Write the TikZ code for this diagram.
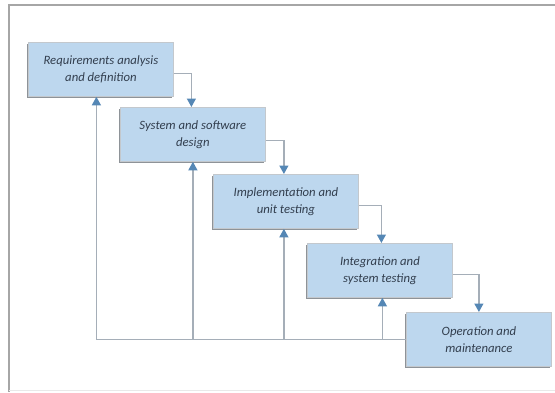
\documentclass[tikz,border=0pt]{standalone}
\usepackage{fontspec}
\setmainfont{Carlito}
\usetikzlibrary{arrows.meta,shadows}
\definecolor{boxfill}{HTML}{BDD7EE}
\definecolor{boxedge}{HTML}{C3C8CD}
\definecolor{shade}{HTML}{8E9398}
\definecolor{txt}{HTML}{323E4E}
\definecolor{linegray}{HTML}{A5AEB8}
\definecolor{arrowblue}{HTML}{5587B5}
\definecolor{framegray}{HTML}{A6A6A6}
\tikzset{
  stage/.style={draw=boxedge, line width=0.8pt, fill=boxfill,
    drop shadow={shadow xshift=-1.6pt, shadow yshift=-1.8pt, fill=shade, opacity=1},
    minimum width=145pt, minimum height=54pt, inner sep=0pt, anchor=north west,
    align=center, text=txt, font=\fontsize{12.7}{17}\selectfont\itshape},
  flow/.style={draw=linegray, line width=1.3pt,
    -{Triangle[width=9pt,length=8.5pt,color=arrowblue]}},
  plain/.style={draw=linegray, line width=1.3pt}
}
\begin{document}
\begin{tikzpicture}[x=1pt,y=-1pt]
\useasboundingbox (0,0) rectangle (555,392);
\draw[framegray, line width=1.2pt] (9,392) -- (9,5) -- (555,5);
\draw[framegray!25, line width=0.8pt] (9,390) -- (555,390);
\node[stage] (b1) at (28,42) {Requirements analysis\\and definition};
\node[stage] (b2) at (120,107) {System and software\\design};
\node[stage] (b3) at (213,174) {Implementation and\\unit testing};
\node[stage] (b4) at (307,243) {Integration and\\system testing};
\node[stage] (b5) at (406,312) {Operation and\\maintenance};
% forward flow
\draw[flow] ([yshift=-4pt]b1.east) -| ([xshift=-1.5pt]b2.north);
\draw[flow] ([yshift=-6pt]b2.east) -| ([xshift=-2pt]b3.north);
\draw[flow] ([yshift=-4pt]b3.east) -| ([xshift=1.5pt]b4.north);
\draw[flow] ([yshift=-4pt]b4.east) -| (b5.north);
% feedback
\coordinate (fb) at ([xshift=-4.5pt]b1.south |- b5.west);
\draw[plain] (b5.west) -- (fb);
\draw[flow] (fb) -- ([xshift=-4.5pt]b1.south);
\draw[flow] (b2.south |- b5.west) -- (b2.south);
\draw[flow] ([xshift=-2pt]b3.south |- b5.west) -- ([xshift=-2pt]b3.south);
\draw[flow] ([xshift=2.5pt]b4.south |- b5.west) -- ([xshift=2.5pt]b4.south);
\end{tikzpicture}
\end{document}
